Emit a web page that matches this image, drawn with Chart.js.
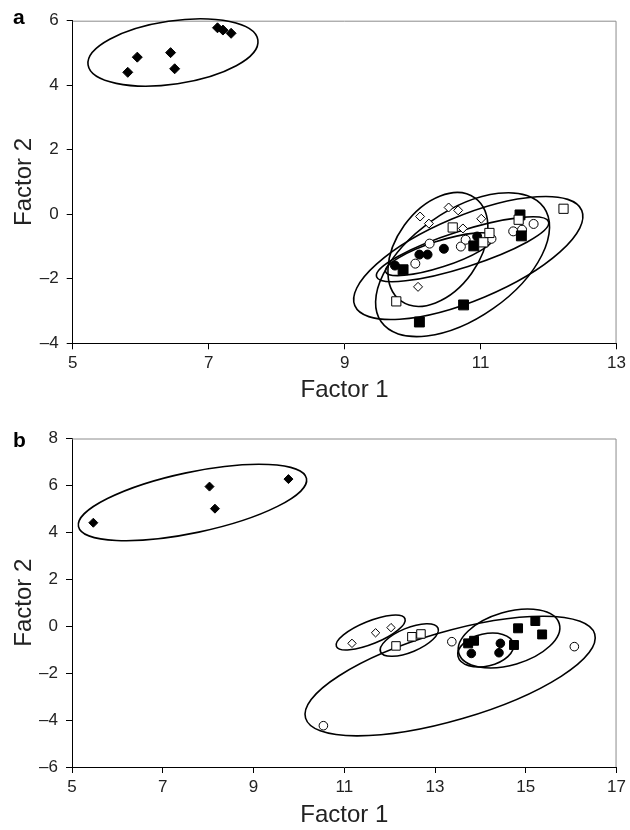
<!DOCTYPE html>
<html lang="en">
<head>
<meta charset="UTF-8">
<title>Factor 1 vs Factor 2</title>
<script src="https://cdn.jsdelivr.net/npm/chart.js"></script>
<style>
  body { margin: 0; background: #fff; }
  .panel { width: 630px; height: 415px; }
  canvas { display: block; }
</style>
</head>
<body>
<div class="panel"><canvas id="chartA" width="630" height="415"></canvas></div>
<div class="panel"><canvas id="chartB" width="630" height="415"></canvas></div>
<script>
// ---- panel a ----
const aXTicks = [5, 13];      // min, max (step 2)
const aYTicks = [-4, 6];
const aFilledDiamonds = [[5.81, 4.40], [5.95, 4.87], [6.44, 5.01], [6.50, 4.51], [7.13, 5.78], [7.21, 5.71], [7.33, 5.61]];
const aOpenDiamonds = [[10.11, -0.07], [10.24, -0.29], [10.53, 0.21], [10.67, 0.12], [10.74, -0.44], [11.01, -0.14], [10.08, -2.25]];
const aOpenSquares = [[10.59, -0.41], [9.76, -2.70], [11.56, -0.17], [12.22, 0.17], [11.13, -0.58], [11.04, -0.87]];
const aFilledSquares = [[11.58, -0.02], [11.60, -0.67], [10.90, -0.98], [9.86, -1.72], [10.75, -2.81], [10.10, -3.34]];
const aFilledCircles = [[9.74, -1.59], [10.10, -1.25], [10.22, -1.25], [10.46, -1.07], [10.95, -0.69]];
const aOpenCircles = [[10.04, -1.53], [10.25, -0.91], [10.71, -1.00], [10.78, -0.79], [11.16, -0.76], [11.48, -0.53], [11.61, -0.48], [11.78, -0.30]];
// ellipses: centre x, centre y, half major axis dx, dy (data units), minor/major ratio
const aEllipses = [
  [6.475, 5.015, 1.249, 0.387, 0.368],
  [10.372, -1.09, 0.544, 1.598, 0.652],
  [10.819, -1.356, 1.669, 1.477, 0.343],
  [10.735, -1.563, 1.197, 1.771, 0.538],
  [10.735, -1.084, 1.265, 0.851, 0.20],
  [10.397, -1.238, 0.794, 0.542, 0.229]
];

// ---- panel b ----
const bXTicks = [5, 17];
const bYTicks = [-6, 8];
const bFilledDiamonds = [[5.47, 4.41], [8.03, 5.95], [8.15, 5.01], [9.77, 6.27]];
const bOpenDiamonds = [[11.17, -0.73], [11.69, -0.28], [12.03, -0.06]];
const bOpenSquares = [[12.14, -0.84], [12.49, -0.45], [12.69, -0.33]];
const bFilledSquares = [[13.73, -0.73], [13.86, -0.62], [14.74, -0.80], [14.83, -0.09], [15.21, 0.22], [15.36, -0.35]];
const bFilledCircles = [[13.80, -1.16], [14.44, -0.73], [14.41, -1.13]];
const bOpenCircles = [[13.37, -0.66], [16.07, -0.87], [10.54, -4.24]];
const bEllipses = [
  [7.655, 5.273, 2.512, 1.027, 0.26],
  [11.582, -0.269, 0.755, 0.593, 0.308],
  [12.433, -0.588, 0.633, 0.507, 0.388],
  [14.116, -1.014, 0.610, 0.271, 0.568],
  [14.631, -0.524, 1.107, 0.631, 0.506],
  [13.333, -2.123, 3.186, 1.793, 0.294]
];

const tickFont = { family: '"Liberation Sans", Arial, sans-serif', size: 17 };
const titleFont = { family: '"Liberation Sans Narrow", "Liberation Sans", Arial, sans-serif', size: 24 };
const fmt = v => v < 0 ? '\u2013' + Math.abs(v) : String(v);

function series(points, style, filled, r) {
  return {
    data: points.map(p => ({ x: p[0], y: p[1] })),
    pointStyle: style,
    pointRadius: r,
    pointBackgroundColor: filled ? '#000' : '#fff',
    pointBorderColor: '#000',
    pointBorderWidth: 1,
    showLine: false
  };
}

function ellipses(list, letter, letterY) {
  return {
    id: 'ellipses' + letter,
    beforeDatasetsDraw(chart) {
      const { ctx, chartArea: ca, scales: { x, y } } = chart;
      ctx.save();
      ctx.strokeStyle = '#8c8c8c';
      ctx.lineWidth = 1;
      ctx.beginPath();
      ctx.moveTo(ca.left, ca.top + 0.5);
      ctx.lineTo(ca.right - 0.5, ca.top + 0.5);
      ctx.lineTo(ca.right - 0.5, ca.bottom);
      ctx.stroke();
      ctx.strokeStyle = '#000';
      ctx.lineWidth = 1.6;
      list.forEach(([cx, cy, dx, dy, ratio]) => {
        const px = x.getPixelForValue(cx), py = y.getPixelForValue(cy);
        const vx = x.getPixelForValue(cx + dx) - px;
        const vy = y.getPixelForValue(cy + dy) - py;
        const r = Math.hypot(vx, vy);
        ctx.beginPath();
        ctx.ellipse(px, py, r, r * ratio, Math.atan2(vy, vx), 0, Math.PI * 2);
        ctx.stroke();
      });
      ctx.fillStyle = '#000';
      ctx.font = 'bold 21px "Liberation Sans", Arial, sans-serif';
      ctx.textBaseline = 'alphabetic';
      ctx.fillText(letter, 13, letterY);
      ctx.restore();
    }
  };
}

function makeChart(id, sets, xr, yr, ell, letter, letterY, pad, yW, xH, xTitlePad) {
  return new Chart(document.getElementById(id), {
    type: 'scatter',
    data: { datasets: sets },
    options: {
      responsive: false,
      animation: false,
      layout: { padding: pad },
      plugins: { legend: { display: false }, tooltip: { enabled: false } },
      events: [],
      scales: {
        x: {
          type: 'linear', min: xr[0], max: xr[1],
          ticks: { stepSize: 2, font: tickFont, color: '#222', padding: 4, callback: fmt, maxRotation: 0 },
          grid: { drawOnChartArea: false, drawTicks: true, tickLength: 6, color: '#000' },
          border: { display: true, color: '#000', width: 1 },
          title: { display: true, text: 'Factor 1', font: titleFont, color: '#222', padding: { top: 0, bottom: xTitlePad } },
          afterFit(s) { s.height = xH; }
        },
        y: {
          type: 'linear', min: yr[0], max: yr[1],
          ticks: { stepSize: 2, font: tickFont, color: '#222', padding: 8, callback: fmt },
          grid: { drawOnChartArea: false, drawTicks: true, tickLength: 6, color: '#000' },
          border: { display: true, color: '#000', width: 1 },
          title: { display: true, text: 'Factor 2', font: titleFont, color: '#222', padding: { top: 10, bottom: 0 } },
          afterFit(s) { s.width = yW; }
        }
      }
    },
    plugins: [ellipses(ell, letter, letterY)]
  });
}

makeChart('chartA', [
  series(aFilledDiamonds, 'rectRot', true, 5),
  series(aOpenDiamonds, 'rectRot', false, 4.5),
  series(aOpenSquares, 'rect', false, 6.5),
  series(aFilledSquares, 'rect', true, 7),
  series(aOpenCircles, 'circle', false, 4.5),
  series(aFilledCircles, 'circle', true, 4.5)
], aXTicks, aYTicks, aEllipses, 'a', 24, { left: 0, right: 10, top: 20.7, bottom: 0 }, 72.7, 71.7, 10);

makeChart('chartB', [
  series(bFilledDiamonds, 'rectRot', true, 4.5),
  series(bOpenDiamonds, 'rectRot', false, 4.2),
  series(bOpenSquares, 'rect', false, 6),
  series(bFilledSquares, 'rect', true, 6.3),
  series(bOpenCircles, 'circle', false, 4.3),
  series(bFilledCircles, 'circle', true, 4.3)
], bXTicks, bYTicks, bEllipses, 'b', 32, { left: 0, right: 11, top: 23.5, bottom: 0 }, 72, 63, 0);
</script>
</body>
</html>
